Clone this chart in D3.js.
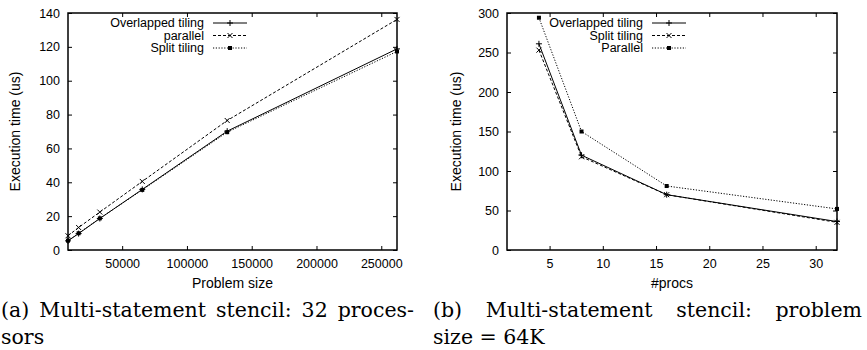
<!DOCTYPE html>
<html><head><meta charset="utf-8">
<script src="https://cdn.jsdelivr.net/npm/d3@7"></script>
<style>
body{margin:0;background:#fff;}
svg{display:block;}
.tick text{font-family:"Liberation Sans",Arial,sans-serif;font-size:12.5px;fill:#000;}
</style></head>
<body>
<svg id="c" width="867" height="350"></svg>
<script>
// ---- Data: chart (a) ----
const sizesA = [8192, 16384, 32768, 65536, 131072, 262144];
const overlappedA = [5.4, 9.7, 18.6, 35.8, 70.2, 118.8];
const parallelA   = [8.4, 13.3, 22.4, 40.5, 76.5, 136.2];
const splitA      = [5.5, 9.9, 18.7, 35.5, 69.6, 117.3];
const xTicksA = [50000, 100000, 150000, 200000, 250000];
const yTicksA = [0, 20, 40, 60, 80, 100, 120, 140];
const namesA = ["Overlapped tiling", "parallel", "Split tiling"];

// ---- Data: chart (b) ----
const procsB = [4, 8, 16, 32];
const overlappedB = [261, 120, 70, 36];
const splitB      = [253, 118, 70, 35];
const parallelB   = [294, 150, 81, 52];
const xTicksB = [5, 10, 15, 20, 25, 30];
const yTicksB = [0, 50, 100, 150, 200, 250, 300];
const namesB = ["Overlapped tiling", "Split tiling", "Parallel"];

const captionA = [["(a)", "Multi-statement", "stencil:", "32", "proces-"], ["sors"]];
const captionB = [["(b)", "Multi-statement", "stencil:", "problem"], ["size = 64K"]];

const svg = d3.select("#c");
const SANS = "Liberation Sans,Arial,sans-serif";
const styles = [
  {dash: null, marker: "plus"},
  {dash: "3,2", marker: "cross"},
  {dash: "1.2,1.6", marker: "square"}
];

function marker(g, shape, x, y) {
  if (shape === "plus") {
    g.append("path").attr("d", `M${x-3},${y}H${x+3}M${x},${y-3}V${y+3}`)
      .attr("stroke", "#000").attr("stroke-width", 1);
  } else if (shape === "cross") {
    g.append("path").attr("d", `M${x-2.5},${y-2.5}L${x+2.5},${y+2.5}M${x-2.5},${y+2.5}L${x+2.5},${y-2.5}`)
      .attr("stroke", "#000").attr("stroke-width", 1);
  } else {
    g.append("rect").attr("x", x-2).attr("y", y-2).attr("width", 4).attr("height", 4).attr("fill", "#000");
  }
}

function chart(opt) {
  const g = svg.append("g");
  const x = d3.scaleLinear().domain(opt.xdom).range([opt.left, opt.right]);
  const y = d3.scaleLinear().domain(opt.ydom).range([opt.bottom, opt.top]);
  const tk = 4;
  const ax = g.append("g").attr("transform", `translate(0,${opt.bottom})`)
    .call(d3.axisBottom(x).tickValues(opt.xticks).tickSizeInner(-tk).tickSizeOuter(0).tickPadding(9).tickFormat(d3.format("d")));
  const axT = g.append("g").attr("transform", `translate(0,${opt.top})`)
    .call(d3.axisTop(x).tickValues(opt.xticks).tickSizeInner(-tk).tickSizeOuter(0).tickFormat(""));
  const ay = g.append("g").attr("transform", `translate(${opt.left},0)`)
    .call(d3.axisLeft(y).tickValues(opt.yticks).tickSizeInner(-tk).tickSizeOuter(0).tickPadding(8).tickFormat(d3.format("d")));
  const ayR = g.append("g").attr("transform", `translate(${opt.right},0)`)
    .call(d3.axisRight(y).tickValues(opt.yticks).tickSizeInner(-tk).tickSizeOuter(0).tickFormat(""));
  [ax, axT, ay, ayR].forEach(a => { a.select(".domain").remove(); a.selectAll("line").attr("stroke", "#000"); });
  g.append("rect").attr("x", opt.left).attr("y", opt.top)
    .attr("width", opt.right - opt.left).attr("height", opt.bottom - opt.top)
    .attr("fill", "none").attr("stroke", "#000").attr("stroke-width", 1.5);

  g.append("text").attr("x", (opt.left + opt.right) / 2).attr("y", opt.bottom + 33)
    .attr("dy", "0.35em").attr("text-anchor", "middle").attr("font-family", SANS)
    .attr("font-size", 14).text(opt.xlabel);
  g.append("text").attr("transform", `translate(${opt.ylabelX},${(opt.top + opt.bottom) / 2}) rotate(-90)`)
    .attr("text-anchor", "middle").attr("font-family", SANS)
    .attr("font-size", 14).attr("dy", "0.35em").text("Execution time (us)");

  const line = d3.line().x(d => x(d[0])).y(d => y(d[1]));
  opt.series.forEach((vals, i) => {
    const pts = opt.xs.map((v, j) => [v, vals[j]]);
    const st = styles[i];
    g.append("path").attr("d", line(pts)).attr("fill", "none").attr("stroke", "#000")
      .attr("stroke-width", 1).attr("stroke-dasharray", st.dash);
    pts.forEach(p => marker(g, st.marker, x(p[0]), y(p[1])));
    const ly = opt.legY + i * 12.5;
    g.append("text").attr("x", opt.legX).attr("y", ly).attr("dy", "0.35em")
      .attr("text-anchor", "end").attr("font-family", SANS)
      .attr("font-size", 12.5).text(opt.names[i]);
    g.append("line").attr("x1", opt.legX + 9).attr("x2", opt.legX + 43).attr("y1", ly).attr("y2", ly)
      .attr("stroke", "#000").attr("stroke-width", 1).attr("stroke-dasharray", st.dash);
    marker(g, st.marker, opt.legX + 26, ly);
  });
}

chart({left: 68, right: 397, top: 13, bottom: 250,
  xdom: [8192, 262144], ydom: [0, 140], xticks: xTicksA, yticks: yTicksA,
  xs: sizesA, series: [overlappedA, parallelA, splitA], names: namesA,
  xlabel: "Problem size", ylabelX: 15, legX: 204, legY: 23});

chart({left: 507, right: 837, top: 13, bottom: 250,
  xdom: [1, 32], ydom: [0, 300], xticks: xTicksB, yticks: yTicksB,
  xs: procsB, series: [overlappedB, splitB, parallelB], names: namesB,
  xlabel: "#procs", ylabelX: 456, legX: 643, legY: 23});

function caption(lines, x0, x1, y0) {
  lines.forEach((words, li) => {
    const y = y0 + li * 27;
    const nodes = words.map(w => svg.append("text").attr("y", y)
      .attr("font-family", "DejaVu Serif,Liberation Serif,serif").attr("font-size", 20.5)
      .attr("fill", "#000").text(w));
    const widths = nodes.map(n => n.node().getComputedTextLength());
    if (li === 0 && words.length > 1) {
      const total = d3.sum(widths);
      const gap = (x1 - x0 - total) / (words.length - 1);
      let cx = x0;
      nodes.forEach((n, k) => { n.attr("x", cx); cx += widths[k] + gap; });
    } else {
      nodes.forEach(n => n.attr("x", x0));
    }
  });
}
caption(captionA, 1, 414, 317);
caption(captionB, 433, 862, 317);
</script>
</body></html>
